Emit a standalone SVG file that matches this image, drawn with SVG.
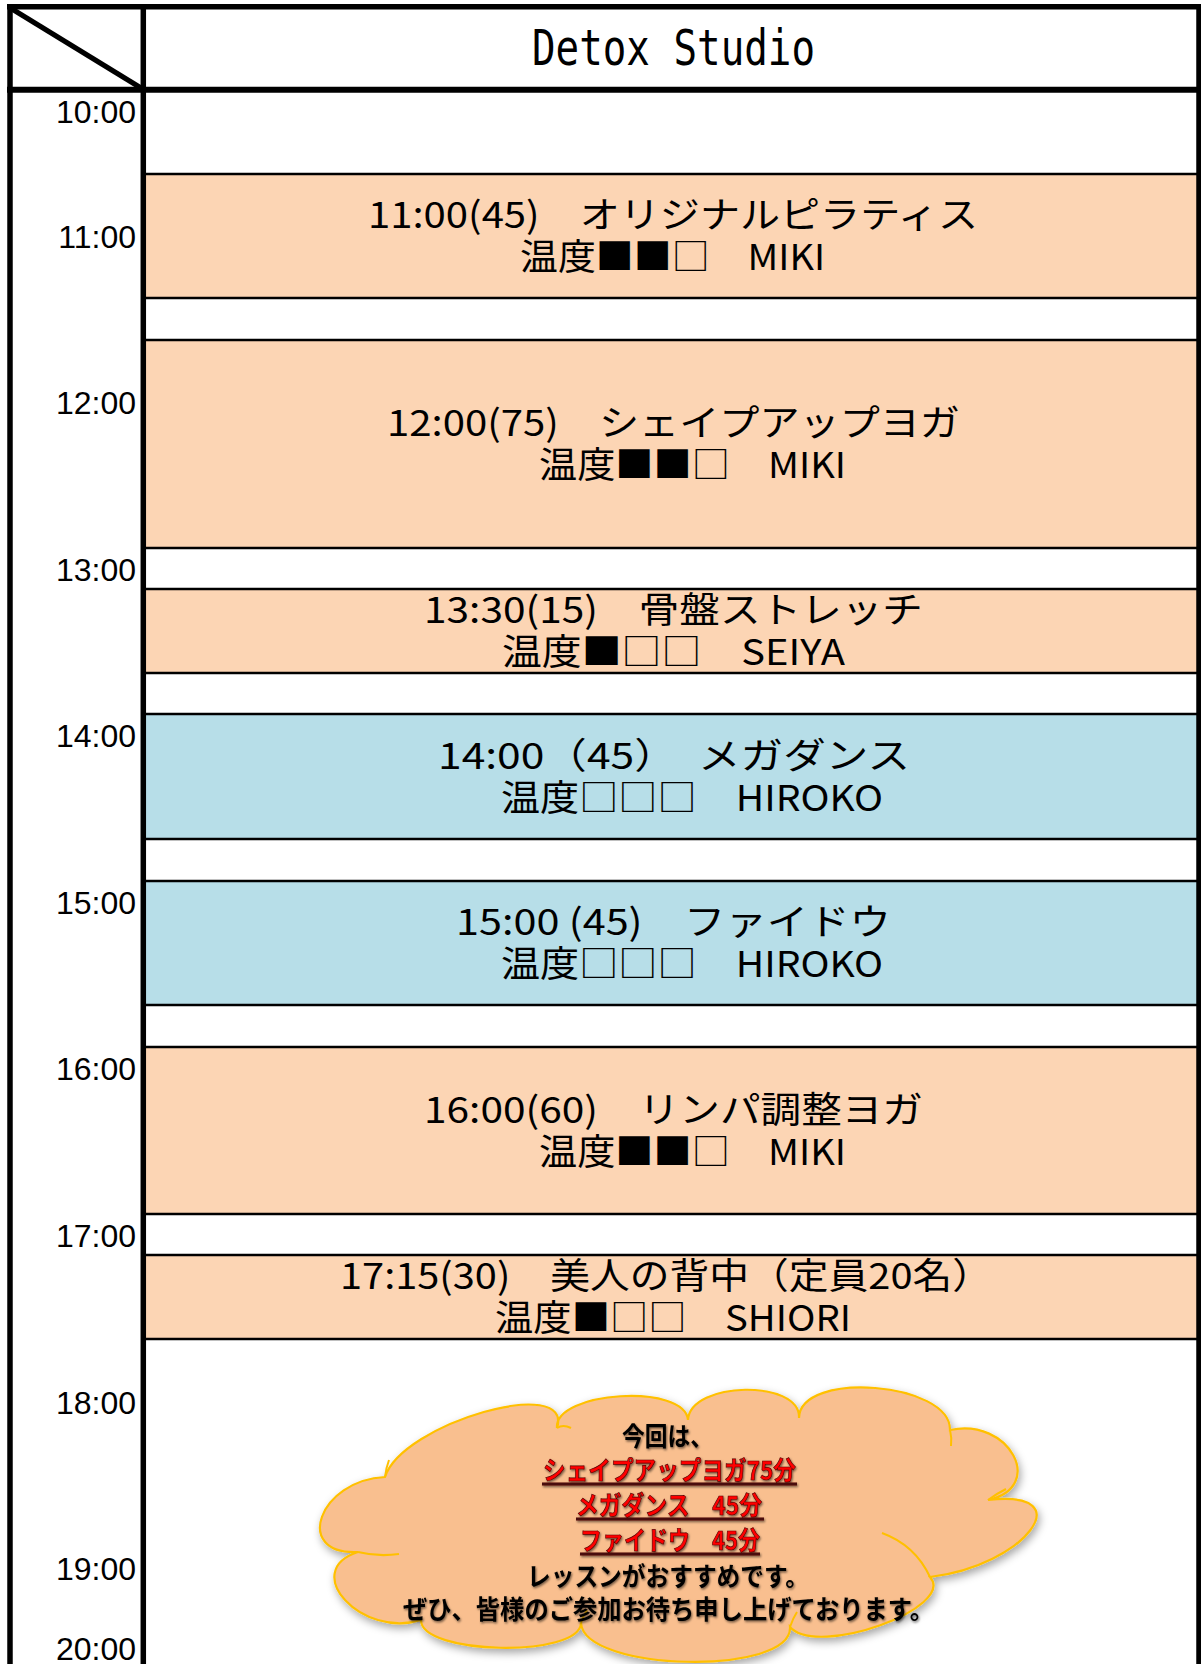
<svg xmlns="http://www.w3.org/2000/svg" width="1201" height="1664" viewBox="0 0 1201 1664">
<defs>
<style>
.lbl{font-family:"Liberation Sans",Arial,sans-serif;font-size:32px;text-anchor:end;fill:#000}
.cls{font-family:"Noto Sans CJK JP","Noto Sans",sans-serif;font-size:36px;fill:#000}
.hdr{font-family:"DejaVu Sans Mono","Liberation Mono",monospace;font-size:50px;fill:#000}
.orange{fill:#FCD5B4}
.blue{fill:#B7DEE8}
.row{stroke:#000;stroke-width:2.7}
.frame{stroke:#000;stroke-width:5.5;fill:none}
.ct{font-family:"Noto Sans CJK JP","Noto Sans",sans-serif;font-size:26px;font-weight:700;fill:#000}
.red{fill:#FF0000;stroke:#500;stroke-width:0.7}
.ul{stroke:#4a0a0a;stroke-width:3}
.inner{fill:none;stroke:#FFC000;stroke-width:2}
</style>
<filter id="sh" x="-10%" y="-10%" width="120%" height="130%">
<feDropShadow dx="2" dy="4" stdDeviation="4" flood-color="#000" flood-opacity="0.35"/>
</filter>
<filter id="tsh" x="-5%" y="-30%" width="110%" height="160%">
<feDropShadow dx="1" dy="1.5" stdDeviation="1" flood-color="#000" flood-opacity="0.55"/>
</filter>
</defs>
<rect x="0" y="0" width="1201" height="1664" fill="#fff"/>

<g id="box-1100">
<rect class="orange" x="146" y="174" width="1055" height="124"/>
<text class="cls" x="368" y="228" textLength="610" lengthAdjust="spacingAndGlyphs">11:00(45)　オリジナルピラティス</text>
<text class="cls" x="520" y="270" textLength="305" lengthAdjust="spacingAndGlyphs">温度■■□　MIKI</text>
</g>
<g id="box-1200">
<rect class="orange" x="146" y="340" width="1055" height="208"/>
<text class="cls" x="387" y="436" textLength="573" lengthAdjust="spacingAndGlyphs">12:00(75)　シェイプアップヨガ</text>
<text class="cls" x="539" y="478" textLength="307" lengthAdjust="spacingAndGlyphs">温度■■□　MIKI</text>
</g>
<g id="box-1330">
<rect class="orange" x="146" y="589" width="1055" height="84"/>
<text class="cls" x="424" y="623" textLength="499" lengthAdjust="spacingAndGlyphs">13:30(15)　骨盤ストレッチ</text>
<text class="cls" x="502" y="665" textLength="343" lengthAdjust="spacingAndGlyphs">温度■□□　SEIYA</text>
</g>
<g id="box-1400">
<rect class="blue" x="146" y="714" width="1055" height="125"/>
<text class="cls" x="438" y="769" textLength="472" lengthAdjust="spacingAndGlyphs">14:00（45）　メガダンス</text>
<text class="cls" x="501" y="811" textLength="382" lengthAdjust="spacingAndGlyphs">温度□□□　HIROKO</text>
</g>
<g id="box-1500">
<rect class="blue" x="146" y="881" width="1055" height="124"/>
<text class="cls" x="456" y="935" textLength="435" lengthAdjust="spacingAndGlyphs">15:00 (45)　ファイドウ</text>
<text class="cls" x="501" y="977" textLength="382" lengthAdjust="spacingAndGlyphs">温度□□□　HIROKO</text>
</g>
<g id="box-1600">
<rect class="orange" x="146" y="1047" width="1055" height="167"/>
<text class="cls" x="424" y="1123" textLength="499" lengthAdjust="spacingAndGlyphs">16:00(60)　リンパ調整ヨガ</text>
<text class="cls" x="539" y="1165" textLength="307" lengthAdjust="spacingAndGlyphs">温度■■□　MIKI</text>
</g>
<g id="box-1715">
<rect class="orange" x="146" y="1255" width="1055" height="84"/>
<text class="cls" x="340" y="1289" textLength="652" lengthAdjust="spacingAndGlyphs">17:15(30)　美人の背中（定員20名）</text>
<text class="cls" x="495" y="1331" textLength="356" lengthAdjust="spacingAndGlyphs">温度■□□　SHIORI</text>
</g>

<g id="grid">
<line class="row" x1="146" y1="174" x2="1201" y2="174"/>
<line class="row" x1="146" y1="298" x2="1201" y2="298"/>
<line class="row" x1="146" y1="340" x2="1201" y2="340"/>
<line class="row" x1="146" y1="548" x2="1201" y2="548"/>
<line class="row" x1="146" y1="589" x2="1201" y2="589"/>
<line class="row" x1="146" y1="673" x2="1201" y2="673"/>
<line class="row" x1="146" y1="714" x2="1201" y2="714"/>
<line class="row" x1="146" y1="839" x2="1201" y2="839"/>
<line class="row" x1="146" y1="881" x2="1201" y2="881"/>
<line class="row" x1="146" y1="1005" x2="1201" y2="1005"/>
<line class="row" x1="146" y1="1047" x2="1201" y2="1047"/>
<line class="row" x1="146" y1="1214" x2="1201" y2="1214"/>
<line class="row" x1="146" y1="1255" x2="1201" y2="1255"/>
<line class="row" x1="146" y1="1339" x2="1201" y2="1339"/>
<line class="frame" x1="7" y1="6.7" x2="1201" y2="6.7"/>
<line class="frame" x1="10" y1="4" x2="10" y2="1664"/>
<line class="frame" x1="143.3" y1="4" x2="143.3" y2="1664"/>
<line class="frame" x1="1199" y1="4" x2="1199" y2="1664"/>
<line stroke="#000" stroke-width="6" x1="7" y1="89.7" x2="1201" y2="89.7"/>
<line stroke="#000" stroke-width="5" x1="12" y1="9" x2="141" y2="88"/>
</g>

<g id="header">
<text class="hdr" x="532" y="65" textLength="283" lengthAdjust="spacingAndGlyphs">Detox Studio</text>
</g>

<g id="time-labels">
<text class="lbl" x="136" y="123">10:00</text>
<text class="lbl" x="136" y="248">11:00</text>
<text class="lbl" x="136" y="414">12:00</text>
<text class="lbl" x="136" y="581">13:00</text>
<text class="lbl" x="136" y="747">14:00</text>
<text class="lbl" x="136" y="914">15:00</text>
<text class="lbl" x="136" y="1080">16:00</text>
<text class="lbl" x="136" y="1247">17:00</text>
<text class="lbl" x="136" y="1414">18:00</text>
<text class="lbl" x="136" y="1580">19:00</text>
<text class="lbl" x="136" y="1660">20:00</text>
</g>

<g id="cloud">
<path filter="url(#sh)" fill="#F9BF8F" stroke="#FFC000" stroke-width="2.2" d="M358,1552 C292,1555 319,1480 385,1477 C402,1423 574,1374 557,1428 C554,1391 685,1383 688,1420 C690,1381 801,1379 799,1418 C800,1370 951,1382 950,1430 C1009,1417 1047,1487 988,1500 C1083,1489 1025,1566 930,1577 C957,1608 817,1658 790,1627 C793,1676 584,1672 581,1623 C580,1658 420,1655 421,1620 C362,1639 299,1571 358,1552 Z"/>
<path class="inner" d="M358,1552 Q378,1557 399,1554"/>
<path class="inner" d="M385,1477 Q386,1468 389,1460"/>
<path class="inner" d="M557,1428 Q563,1424 571,1428"/>
<path class="inner" d="M950,1430 Q952,1438 951,1446"/>
<path class="inner" d="M988,1500 Q996,1494 1006,1489"/>
<path class="inner" d="M882,1533 Q915,1545 930,1577"/>
<path class="inner" d="M581,1623 Q583,1616 587,1610"/>
<path class="inner" d="M790,1627 Q793,1618 797,1612"/>
<g filter="url(#tsh)">
<text class="ct" x="622" y="1446" textLength="91" lengthAdjust="spacingAndGlyphs">今回は、</text>
<text class="ct red" x="543" y="1480" textLength="253" lengthAdjust="spacingAndGlyphs">シェイプアップヨガ75分</text>
<line class="ul" x1="542" y1="1484" x2="797" y2="1484"/>
<text class="ct red" x="576" y="1515" textLength="186" lengthAdjust="spacingAndGlyphs">メガダンス　45分</text>
<line class="ul" x1="576" y1="1519" x2="764" y2="1519"/>
<text class="ct red" x="580" y="1550" textLength="180" lengthAdjust="spacingAndGlyphs">ファイドウ　45分</text>
<line class="ul" x1="580" y1="1554" x2="760" y2="1554"/>
<text class="ct" x="527" y="1586" textLength="282" lengthAdjust="spacingAndGlyphs">レッスンがおすすめです。</text>
<text class="ct" x="403" y="1619" textLength="531" lengthAdjust="spacingAndGlyphs">ぜひ、皆様のご参加お待ち申し上げております。</text>
</g>
</g>
</svg>
